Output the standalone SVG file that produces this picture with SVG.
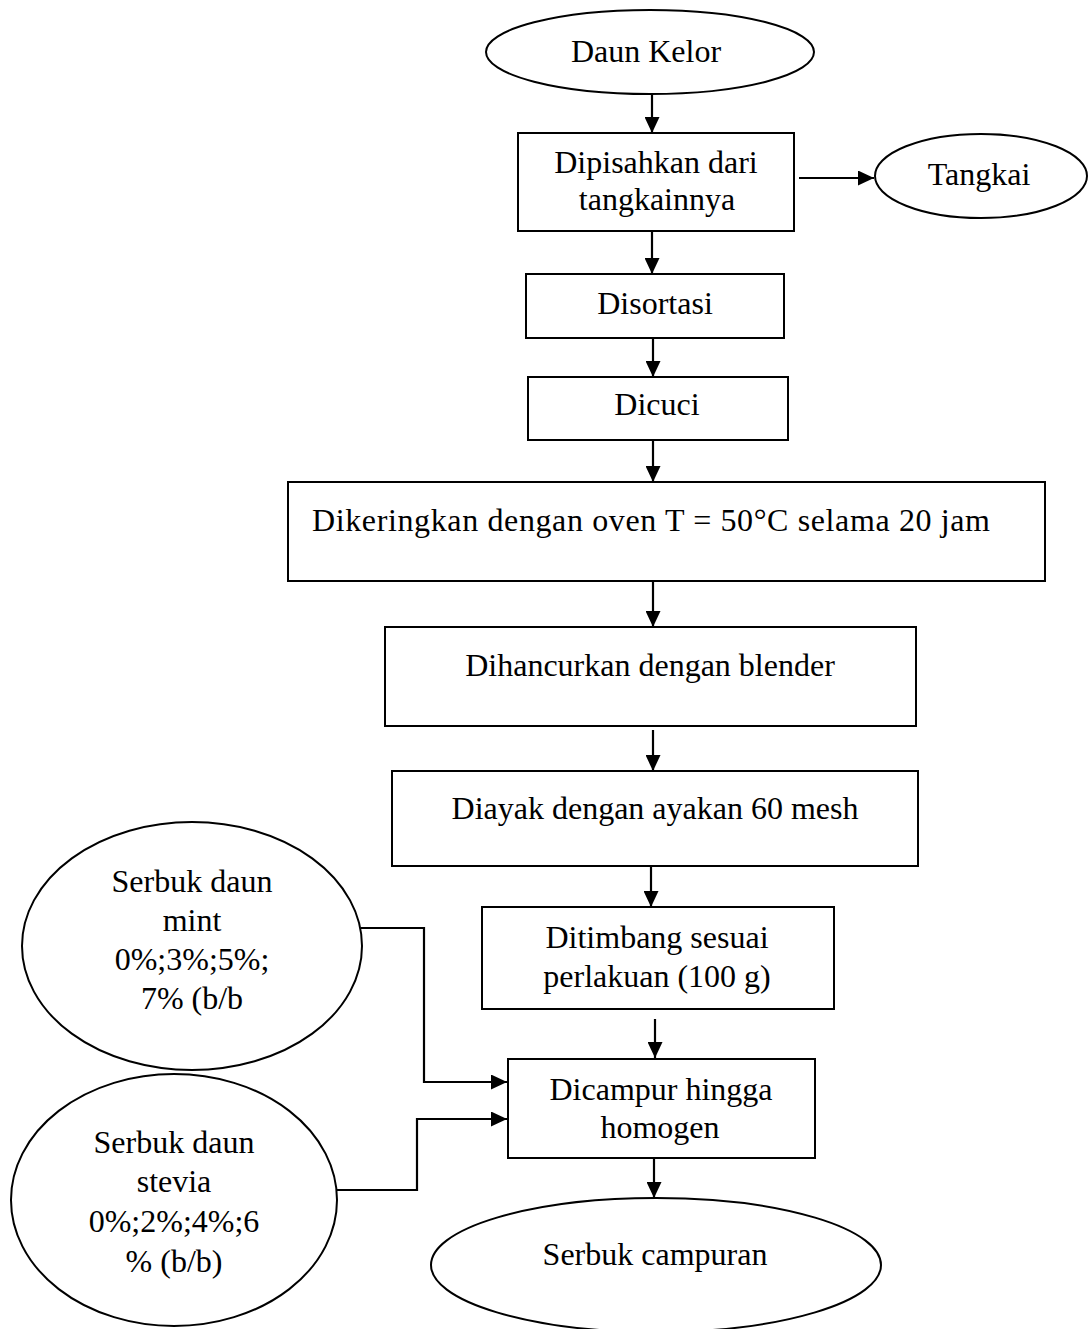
<svg xmlns="http://www.w3.org/2000/svg" width="1088" height="1329" viewBox="0 0 1088 1329">
<style>
.s{fill:#fff;stroke:#000;stroke-width:2}
.t{font-family:"Liberation Serif","Times New Roman",serif;font-size:32px;fill:#000;text-anchor:middle}
.c{fill:none;stroke:#000;stroke-width:2.2}
</style>
<defs>
<marker id="ah" markerUnits="userSpaceOnUse" markerWidth="16" markerHeight="15" refX="16" refY="7.5" orient="auto">
<path d="M0,0 L16,7.5 L0,15 z" fill="#000"/>
</marker>
</defs>
<rect width="1088" height="1329" fill="#fff"/>
<g id="connectors">
<line class="c" x1="652" y1="94" x2="652" y2="133" marker-end="url(#ah)"/>
<line class="c" x1="799" y1="178" x2="874" y2="178" marker-end="url(#ah)"/>
<line class="c" x1="652" y1="231" x2="652" y2="274" marker-end="url(#ah)"/>
<line class="c" x1="653" y1="338" x2="653" y2="377" marker-end="url(#ah)"/>
<line class="c" x1="653" y1="440" x2="653" y2="482" marker-end="url(#ah)"/>
<line class="c" x1="653" y1="581" x2="653" y2="627" marker-end="url(#ah)"/>
<line class="c" x1="653" y1="730" x2="653" y2="771" marker-end="url(#ah)"/>
<line class="c" x1="651" y1="866" x2="651" y2="907" marker-end="url(#ah)"/>
<line class="c" x1="655" y1="1019" x2="655" y2="1058" marker-end="url(#ah)"/>
<line class="c" x1="654" y1="1158" x2="654" y2="1198" marker-end="url(#ah)"/>
<polyline class="c" points="361,928 424,928 424,1082 507,1082" marker-end="url(#ah)"/>
<polyline class="c" points="337,1190 417,1190 417,1119 507,1119" marker-end="url(#ah)"/>
</g>
<g id="daun-kelor">
<ellipse class="s" cx="650" cy="52" rx="164" ry="42"/>
<text class="t" x="646" y="62">Daun Kelor</text>
</g>
<g id="dipisahkan">
<rect class="s" x="518" y="133" width="276" height="98"/>
<text class="t" x="656" y="173">Dipisahkan dari</text>
<text class="t" x="657" y="210">tangkainnya</text>
</g>
<g id="tangkai">
<ellipse class="s" cx="981" cy="176" rx="106" ry="42"/>
<text class="t" x="979" y="185">Tangkai</text>
</g>
<g id="disortasi">
<rect class="s" x="526" y="274" width="258" height="64"/>
<text class="t" x="655" y="314">Disortasi</text>
</g>
<g id="dicuci">
<rect class="s" x="528" y="377" width="260" height="63"/>
<text class="t" x="657" y="415">Dicuci</text>
</g>
<g id="dikeringkan">
<rect class="s" x="288" y="482" width="757" height="99"/>
<text class="t" x="651" y="531" textLength="678" lengthAdjust="spacing">Dikeringkan dengan oven T = 50°C selama 20 jam</text>
</g>
<g id="dihancurkan">
<rect class="s" x="385" y="627" width="531" height="99"/>
<text class="t" x="650" y="676">Dihancurkan dengan blender</text>
</g>
<g id="diayak">
<rect class="s" x="392" y="771" width="526" height="95"/>
<text class="t" x="655" y="819">Diayak dengan ayakan 60 mesh</text>
</g>
<g id="ditimbang">
<rect class="s" x="482" y="907" width="352" height="102"/>
<text class="t" x="657" y="948">Ditimbang sesuai</text>
<text class="t" x="657" y="987">perlakuan (100 g)</text>
</g>
<g id="dicampur">
<rect class="s" x="508" y="1059" width="307" height="99"/>
<text class="t" x="661" y="1100">Dicampur hingga</text>
<text class="t" x="660" y="1138">homogen</text>
</g>
<g id="serbuk-campuran">
<ellipse class="s" cx="656" cy="1265" rx="225" ry="67"/>
<text class="t" x="655" y="1265">Serbuk campuran</text>
</g>
<g id="serbuk-mint">
<ellipse class="s" cx="192" cy="946" rx="170" ry="124"/>
<text class="t" x="192" y="892">Serbuk daun</text>
<text class="t" x="192" y="931">mint</text>
<text class="t" x="192" y="970">0%;3%;5%;</text>
<text class="t" x="192" y="1009">7% (b/b</text>
</g>
<g id="serbuk-stevia">
<ellipse class="s" cx="174" cy="1200" rx="163" ry="126"/>
<text class="t" x="174" y="1153">Serbuk daun</text>
<text class="t" x="174" y="1192">stevia</text>
<text class="t" x="174" y="1232">0%;2%;4%;6</text>
<text class="t" x="174" y="1272">% (b/b)</text>
</g>
</svg>
